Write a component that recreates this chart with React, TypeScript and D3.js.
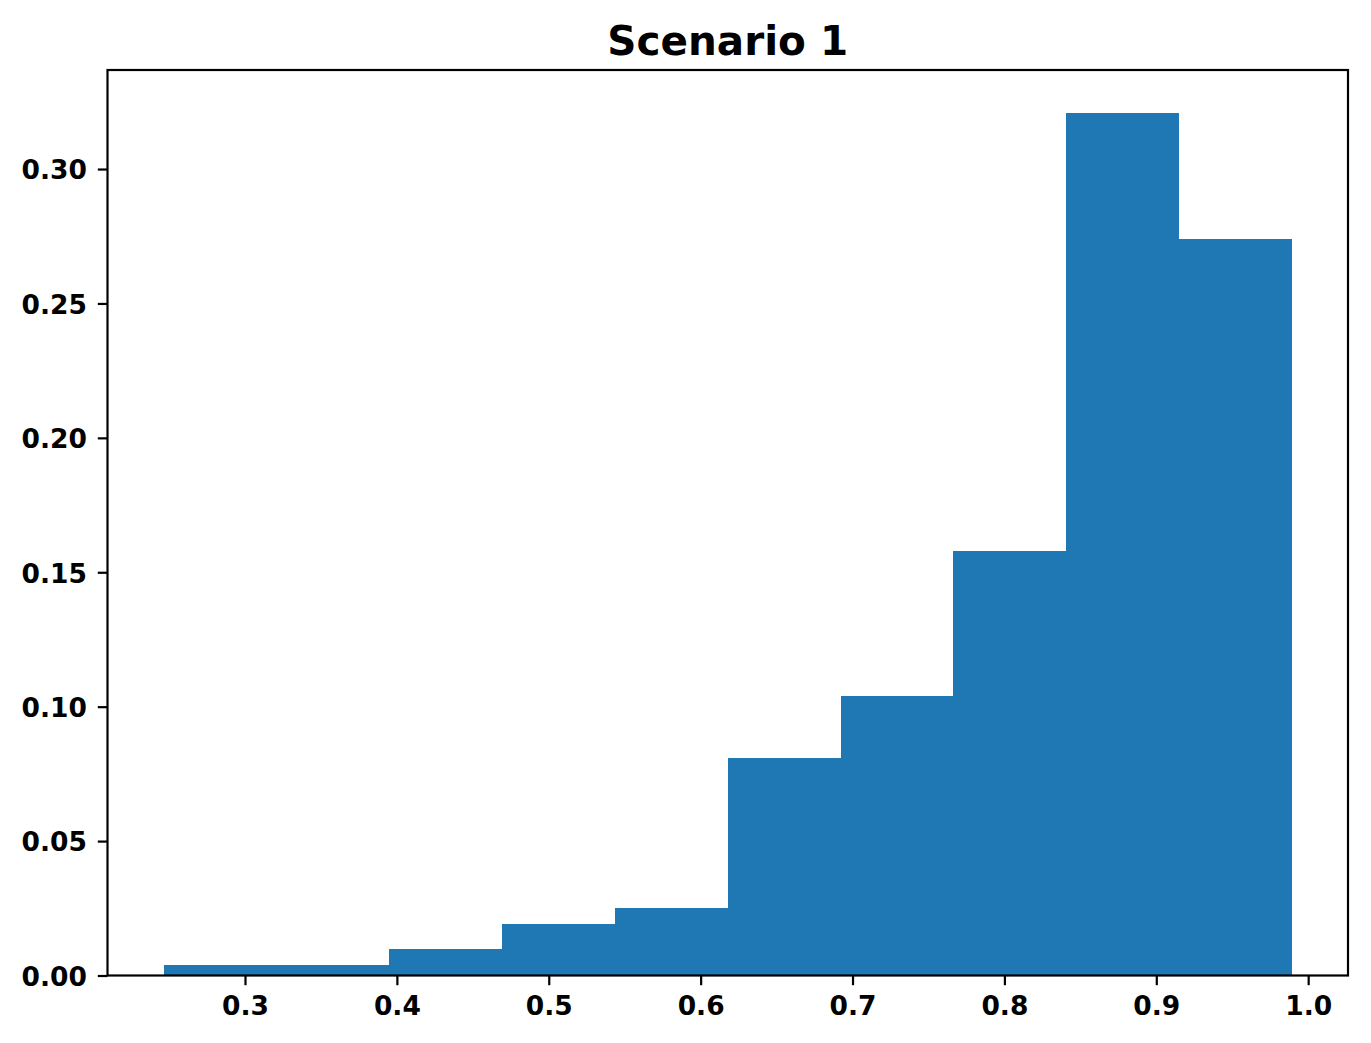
import { useEffect, useRef } from "react";
import * as d3 from "d3";

// histogram bins (fraction of samples per bin)
const binEdges = [
  0.2466, 0.3209, 0.3951, 0.4694, 0.5436, 0.6179, 0.6921, 0.7664, 0.8406,
  0.9149, 0.9891,
];
const binFreq = [
  0.0039, 0.0039, 0.0099, 0.0193, 0.0251, 0.0809, 0.104, 0.158, 0.3208, 0.274,
];
const xTicks = [0.3, 0.4, 0.5, 0.6, 0.7, 0.8, 0.9, 1.0];
const yTicks = [0, 0.05, 0.1, 0.15, 0.2, 0.25, 0.3];
const title = "Scenario 1";

const width = 1371;
const height = 1043;
const margin = { top: 70, right: 23, bottom: 67.5, left: 107.5 };
const font = "'DejaVu Sans', sans-serif";
const lw = 2.2;

const App = () => {
  const xAxisRef = useRef<SVGGElement>(null);
  const yAxisRef = useRef<SVGGElement>(null);

  const lo = binEdges[0];
  const hi = binEdges[binEdges.length - 1];
  const pad = (hi - lo) * 0.05;
  const x = d3
    .scaleLinear()
    .domain([lo - pad, hi + pad])
    .range([margin.left, width - margin.right]);
  const y = d3
    .scaleLinear()
    .domain([0, d3.max(binFreq)! * 1.05])
    .range([height - margin.bottom, margin.top]);

  useEffect(() => {
    const style = (g: any) => {
      g.select(".domain").remove();
      g.selectAll(".tick line").attr("stroke", "#000").attr("stroke-width", lw);
      g.selectAll("text")
        .attr("fill", "#000")
        .attr("font-family", font)
        .attr("font-weight", "bold")
        .attr("font-size", 26.5);
    };

    d3.select(xAxisRef.current)
      .call(
        d3
          .axisBottom(x)
          .tickValues(xTicks)
          .tickFormat(d3.format(".1f"))
          .tickSize(9.7)
          .tickPadding(10.8),
      )
      .call(style);

    d3.select(yAxisRef.current)
      .call(
        d3
          .axisLeft(y)
          .tickValues(yTicks)
          .tickFormat(d3.format(".2f"))
          .tickSize(9.7)
          .tickPadding(10.8),
      )
      .call(style)
      .call((g) => g.selectAll("text").attr("dy", "0.37em"));
  }, []);

  return (
    <svg
      width={width}
      height={height}
      style={{ position: "absolute", left: 0, top: 0, background: "#fff" }}
    >
      <rect width={width} height={height} fill="#fff" />
      <g shapeRendering="crispEdges">
        {binFreq.map((f, i) => (
          <rect
            key={i}
            x={x(binEdges[i])}
            y={y(f)}
            width={x(binEdges[i + 1]) - x(binEdges[i])}
            height={y(0) - y(f)}
            fill="#1f77b4"
          />
        ))}
      </g>
      <rect
        x={margin.left}
        y={margin.top}
        width={width - margin.left - margin.right}
        height={height - margin.top - margin.bottom}
        fill="none"
        stroke="#000"
        strokeWidth={lw}
      />
      <g ref={xAxisRef} transform={`translate(0,${height - margin.bottom})`} />
      <g ref={yAxisRef} transform={`translate(${margin.left},0)`} />
      <text
        x={(margin.left + width - margin.right) / 2}
        y={54.5}
        textAnchor="middle"
        fontFamily={font}
        fontWeight="bold"
        fontSize={40.5}
      >
        {title}
      </text>
    </svg>
  );
};

export default App;
